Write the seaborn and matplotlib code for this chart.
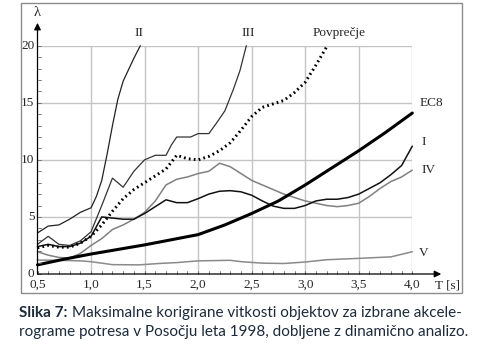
import matplotlib
matplotlib.use("Agg")
import matplotlib.pyplot as plt
import matplotlib.patches as mpatches
import seaborn as sns
import pandas as pd

# curves (T in s, lambda)
t_I = [0.5, 0.6, 0.7, 0.8, 0.9, 1.0, 1.1, 1.2, 1.3, 1.4, 1.5, 1.6, 1.7, 1.8, 1.9, 2.0,
       2.1, 2.2, 2.3, 2.4, 2.5, 2.6, 2.7, 2.8, 2.9, 3.0, 3.1, 3.2, 3.3, 3.4, 3.5, 3.6,
       3.7, 3.8, 3.9, 4.0]
lam_I = [2.4, 2.6, 2.4, 2.4, 2.7, 3.3, 5.0, 4.9, 4.8, 4.8, 5.3, 5.9, 6.5, 6.25, 6.25, 6.6,
         7.0, 7.25, 7.3, 7.2, 6.9, 6.4, 5.95, 5.75, 5.75, 6.0, 6.4, 6.55, 6.55, 6.7, 7.0, 7.5,
         8.0, 8.7, 9.5, 11.2]

t_II = [0.5, 0.6, 0.7, 0.8, 0.9, 1.0, 1.05, 1.1, 1.15, 1.2, 1.25, 1.3, 1.35, 1.4, 1.46]
lam_II = [3.6, 4.2, 4.3, 4.8, 5.4, 5.8, 6.8, 8.2, 10.5, 13.0, 15.3, 16.9, 17.9, 18.9, 20.0]

t_III = [0.5, 0.6, 0.7, 0.8, 0.9, 1.0, 1.1, 1.2, 1.3, 1.4, 1.5, 1.6, 1.7, 1.75, 1.8, 1.93,
         2.0, 2.1, 2.17, 2.25, 2.33, 2.39, 2.45]
lam_III = [2.6, 3.3, 2.6, 2.5, 2.9, 3.7, 6.0, 8.4, 7.6, 9.0, 10.0, 10.4, 10.4, 11.3, 12.0, 12.0,
           12.3, 12.3, 13.2, 14.3, 16.2, 17.8, 20.0]

t_IV = t_I
lam_IV = [1.95, 1.65, 1.45, 1.4, 1.8, 2.5, 3.1, 3.9, 4.3, 4.8, 5.4, 6.4, 7.8, 8.3, 8.5, 8.8,
          9.0, 9.7, 9.4, 8.8, 8.2, 7.8, 7.4, 7.0, 6.7, 6.4, 6.2, 6.0, 5.9, 6.0, 6.2, 6.8,
          7.5, 8.1, 8.5, 9.1]

t_V = [0.5, 0.7, 0.9, 1.0, 1.2, 1.45, 1.65, 1.8, 2.0, 2.3, 2.4, 2.6, 2.8, 3.0, 3.2, 3.5,
       3.8, 4.0]
lam_V = [1.22, 1.2, 1.15, 1.08, 0.82, 0.8, 0.93, 1.0, 1.15, 1.2, 1.08, 0.95, 0.92, 1.05,
         1.25, 1.37, 1.5, 1.95]

t_ec8 = [0.5, 0.75, 1.0, 1.25, 1.5, 1.75, 2.0, 2.25, 2.5, 2.75, 3.0, 3.25, 3.5, 3.75, 4.0]
lam_ec8 = [0.8, 1.3, 1.75, 2.15, 2.55, 3.0, 3.45, 4.3, 5.3, 6.4, 7.8, 9.3, 10.8, 12.4, 14.1]

t_avg = [0.5, 0.6, 0.7, 0.8, 0.9, 1.0, 1.1, 1.2, 1.3, 1.4, 1.5, 1.6, 1.7, 1.8, 1.9, 2.0,
         2.1, 2.2, 2.3, 2.4, 2.5, 2.6, 2.7, 2.8, 2.9, 3.0, 3.1, 3.2]
lam_avg = [2.3, 2.5, 2.35, 2.35, 2.7, 3.3, 4.3, 5.5, 6.6, 7.4, 8.0, 8.6, 9.2, 10.4, 10.1, 10.0,
           10.3, 10.8, 11.5, 12.6, 13.8, 14.6, 14.9, 15.2, 15.9, 16.8, 18.3, 19.9]

x_ticks = [0.5, 1.0, 1.5, 2.0, 2.5, 3.0, 3.5, 4.0]
x_labels = ["0,5", "1,0", "1,5", "2,0", "2,5", "3,0", "3,5", "4,0"]
y_ticks = [0, 5, 10, 15, 20]

cap_bold = "Slika 7:"
cap_line1 = "Maksimalne korigirane vitkosti objektov za izbrane akcele-"
cap_line2 = "rograme potresa v Posočju leta 1998, dobljene z dinamično analizo."

serif = "Liberation Serif"
sns.set_style("white")
plt.rcParams["font.family"] = [serif, "DejaVu Serif"]

fig = plt.figure(figsize=(4.78, 3.51), dpi=100)
ax = fig.add_axes([37.5 / 478, 77 / 351, 374.8 / 478, 228.3 / 351])

# grid
for xv in x_ticks[1:]:
    ax.plot([xv, xv], [0, 20], color="#c4c4c4", lw=1, zorder=0)
for yv in y_ticks[1:]:
    ax.plot([0.5, 4.0], [yv, yv], color="#c4c4c4", lw=1, zorder=0)

def draw(t, lam, **kw):
    df = pd.DataFrame({"T": t, "lam": lam})
    sns.lineplot(data=df, x="T", y="lam", ax=ax, sort=False, estimator=None,
                 legend=False, clip_on=False, **kw)

draw(t_V, lam_V, color="#8a8a8a", lw=1.1)
draw(t_IV, lam_IV, color="#808080", lw=1.1)
draw(t_I, lam_I, color="#111111", lw=1.1)
draw(t_III, lam_III, color="#333333", lw=0.9)
draw(t_II, lam_II, color="#222222", lw=0.9)
draw(t_ec8, lam_ec8, color="black", lw=2.2)
draw(t_avg, lam_avg, color="black", lw=2.1, linestyle=(0, (0.6, 1.1)))

ax.set_xlim(0.5, 4.0)
ax.set_ylim(0, 20)
for s in ax.spines.values():
    s.set_visible(False)
ax.set_xlabel("")
ax.set_ylabel("")
ax.set_xticks([])
ax.set_yticks([])

# axes with arrows
ax.annotate("", xy=(4.27, 0), xytext=(0.5, 0), xycoords="data",
            arrowprops=dict(arrowstyle="-|>", color="black", lw=0.9,
                            mutation_scale=10, shrinkA=0, shrinkB=0),
            annotation_clip=False)
ax.annotate("", xy=(0.5, 22.0), xytext=(0.5, 0), xycoords="data",
            arrowprops=dict(arrowstyle="-|>", color="black", lw=0.9,
                            mutation_scale=10, shrinkA=0, shrinkB=0),
            annotation_clip=False)

# small ticks
for i in range(5, 41):
    ax.plot([i / 10, i / 10], [0, 0.25], color="#666666", lw=0.6, clip_on=False)
for i in range(0, 21):
    ax.plot([0.5, 0.53], [i, i], color="#666666", lw=0.6, clip_on=False)

fs = 9.5
for xv, lab in zip(x_ticks, x_labels):
    ax.text(xv, -0.45, lab, ha="center", va="top", fontsize=fs)
for yv in y_ticks:
    ax.text(0.47, yv, str(yv), ha="right", va="center", fontsize=fs)

ax.text(0.5, 22.9, "λ", ha="center", va="center", fontsize=fs + 1)
ax.text(4.33, -1.0, "T [s]", ha="center", va="center", fontsize=fs)

ax.text(1.45, 21.1, "II", ha="center", va="center", fontsize=fs)
ax.text(2.465, 21.1, "III", ha="center", va="center", fontsize=fs)
ax.text(3.32, 21.1, "Povprečje", ha="center", va="center", fontsize=fs)
ax.text(4.18, 15.0, "EC8", ha="center", va="center", fontsize=fs)
ax.text(4.11, 11.6, "I", ha="center", va="center", fontsize=fs)
ax.text(4.15, 9.1, "IV", ha="center", va="center", fontsize=fs)
ax.text(4.11, 1.8, "V", ha="center", va="center", fontsize=fs)

# outer frame
fig.patches.append(mpatches.Rectangle((20.5 / 478, 1 - 292.5 / 351), 441 / 478, 289.5 / 351,
                                      transform=fig.transFigure, fill=False,
                                      edgecolor="#8c8c8c", lw=1))

# caption, font size fitted so that the first line spans the frame width
cap_font = ["Lato", "DejaVu Sans"]
cap_col = "#1c2a3a"
renderer = fig.canvas.get_renderer()
left_px, right_px = 19, 462
cfs = 11.0
while True:
    tb = fig.text(left_px / 478, 1 - 313 / 351, cap_bold, fontsize=cfs, fontweight="bold",
                  color=cap_col, family=cap_font, va="center")
    wb = tb.get_window_extent(renderer).width
    space = cfs * 100 / 72 * 0.28
    tr = fig.text((left_px + wb + space) / 478, 1 - 313 / 351, cap_line1, fontsize=cfs,
                  color=cap_col, family=cap_font, va="center")
    end = tr.get_window_extent(renderer).x1
    if end <= right_px or cfs < 7:
        break
    tb.remove()
    tr.remove()
    cfs -= 0.1
fig.text(left_px / 478, 1 - 332 / 351, cap_line2, fontsize=cfs, color=cap_col,
         family=cap_font, va="center")

fig.savefig("out.png", dpi=100)
